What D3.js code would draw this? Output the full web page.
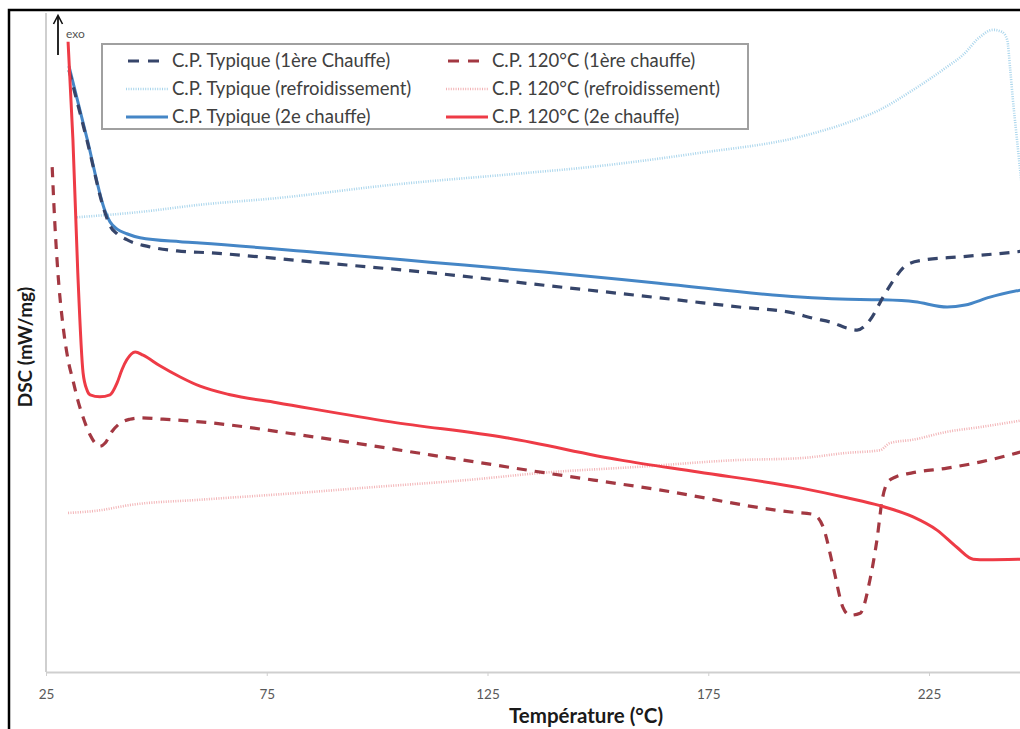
<!DOCTYPE html>
<html><head><meta charset="utf-8">
<script src="https://cdn.jsdelivr.net/npm/d3@7"></script>
<style>html,body{margin:0;padding:0;background:#fff;} svg{display:block;}</style>
</head><body>
<svg id="chart" width="1020" height="729"></svg>
<script>
// ---- Data: [Température (°C), DSC (arbitrary units, exo up)] ----
const typique1ereChauffe = [[30.2,91.2],[34.3,80.5],[38.4,69.5],[39.5,67.6],[41.1,66.4],[43.3,65.5],[48.6,64.4],[54.7,63.8],[62.4,63.5],[85.9,62.1],[112.0,60.5],[137.8,58.6],[163.8,56.7],[182.0,55.3],[194.2,54.4],[198.7,53.6],[203.3,52.9],[206.4,52.1],[208.7,51.8],[211.6,53.3],[214.6,56.8],[217.3,59.7],[220.0,61.7],[223.6,62.4],[232.0,62.9],[244.0,63.6],[246.7,63.8]];
const typiqueRefroid = [[32.0,68.9],[46.3,69.7],[59.9,70.8],[77.3,71.8],[103.1,73.8],[133.5,75.6],[146.6,76.4],[172.5,78.6],[195.8,81.1],[206.4,83.2],[213.9,85.2],[221.4,88.2],[229.1,91.7],[232.7,93.5],[236.5,96.2],[239.5,97.3],[241.5,97.0],[242.7,95.8],[243.4,91.2],[244.0,86.7],[244.7,82.1],[245.4,77.6],[246.1,73.0]];
const typique2eChauffe = [[30.2,91.8],[34.3,80.8],[38.4,69.8],[39.5,68.2],[41.1,67.1],[43.3,66.4],[46.3,65.8],[55.4,65.2],[59.9,65.0],[85.9,63.6],[112.0,62.1],[137.8,60.6],[163.8,58.9],[195.8,56.8],[204.8,56.5],[213.9,56.4],[221.8,56.1],[229.1,55.3],[233.2,55.6],[238.8,56.8],[246.7,58.0]];
const cp120_1ereChauffe = [[26.4,76.5],[27.0,68.0],[27.7,60.5],[28.9,52.2],[30.0,47.3],[31.1,44.2],[32.2,41.2],[33.4,38.6],[35.0,35.9],[36.1,34.7],[37.2,34.2],[38.4,34.7],[39.9,36.4],[41.8,37.7],[44.0,38.3],[46.3,38.5],[51.5,38.3],[59.9,37.9],[85.9,35.6],[112.0,32.9],[137.8,30.2],[163.8,27.6],[194.2,24.2],[198.7,23.9],[201.0,22.0],[203.3,15.9],[205.5,9.8],[207.1,8.6],[209.4,8.9],[211.6,13.9],[213.2,20.0],[214.4,26.1],[215.7,28.8],[217.3,29.5],[221.4,30.2],[229.1,30.9],[236.5,31.8],[246.7,33.5]];
const cp120_Refroid = [[30.0,24.1],[37.2,24.5],[44.0,25.3],[59.9,26.1],[81.6,27.1],[98.8,28.0],[120.6,29.1],[137.8,30.2],[159.5,31.1],[181.3,32.1],[195.8,32.4],[206.4,33.2],[213.9,33.6],[216.2,34.7],[221.4,35.2],[229.1,36.4],[236.5,37.1],[246.7,38.2]];
const cp120_2eChauffe = [[30.0,95.5],[31.1,80.6],[32.2,60.5],[33.4,45.3],[34.3,42.7],[35.0,42.0],[37.2,41.7],[39.5,42.0],[41.1,43.8],[42.2,45.8],[43.3,47.3],[45.2,48.5],[47.0,48.0],[50.8,46.4],[55.4,44.7],[59.9,43.3],[66.7,42.0],[77.3,40.8],[103.1,37.9],[129.2,35.5],[155.2,32.1],[172.7,30.3],[195.8,27.9],[206.4,26.4],[213.9,25.2],[221.4,23.5],[226.8,21.5],[231.3,18.9],[235.0,17.1],[238.1,17.0],[246.7,17.1]];

const xTicks = [25, 75, 125, 175, 225];
const legendLabels = ["C.P. Typique (1ère Chauffe)", "C.P. Typique (refroidissement)", "C.P. Typique (2e chauffe)",
                      "C.P. 120°C (1ère chauffe)", "C.P. 120°C (refroidissement)", "C.P. 120°C (2e chauffe)"];
const xTitle = "Température (°C)";
const yTitle = "DSC (mW/mg)";

// ---- Styles ----
const styles = [
  {data: typique1ereChauffe, color: "#36456a", width: 3.2, dash: "10,8"},
  {data: typiqueRefroid,     color: "#a9d5ec", width: 2.6, dash: "1,1.4"},
  {data: typique2eChauffe,   color: "#4586c6", width: 3, dash: null},
  {data: cp120_1ereChauffe,  color: "#a33842", width: 3.2, dash: "10,8"},
  {data: cp120_Refroid,      color: "#f2b3b6", width: 2.6, dash: "1,1.4"},
  {data: cp120_2eChauffe,    color: "#ee3b46", width: 3, dash: null}
];
const FONT = "Lato, 'Open Sans', sans-serif";

const svg = d3.select("#chart");
const x = d3.scaleLinear().domain([25, 250]).range([46, 1039.4]);
const y = d3.scaleLinear().domain([0, 100]).range([672, 12]);

// frame
svg.append("rect").attr("x", 9).attr("y", 10).attr("width", 1100).attr("height", 1000)
  .attr("fill", "none").attr("stroke", "#000").attr("stroke-width", 2.5);

svg.append("defs").append("clipPath").attr("id", "plotclip")
  .append("rect").attr("x", 46).attr("y", 11).attr("width", 974).attr("height", 662);

// y axis line
svg.append("line").attr("x1", 46).attr("x2", 46).attr("y1", 13).attr("y2", 672)
  .attr("stroke", "#cfcfcf").attr("stroke-width", 2);

// x axis
const xAxis = svg.append("g").attr("transform", "translate(0,672)")
  .call(d3.axisBottom(x).tickValues(xTicks).tickSize(4).tickSizeOuter(0).tickPadding(13).tickFormat(d3.format("d")));
xAxis.select(".domain").attr("stroke", "#cfcfcf").attr("stroke-width", 2);
xAxis.selectAll(".tick line").attr("stroke", "#cfcfcf");
xAxis.selectAll(".tick text").attr("fill", "#595959").style("font-family", FONT).style("font-size", "13.5px");

// axis titles
svg.append("text").attr("x", 586).attr("y", 723).attr("text-anchor", "middle")
  .style("font-family", FONT).style("font-weight", "bold").style("font-size", "20.5px")
  .attr("fill", "#1a1a1a").text(xTitle);
svg.append("text").attr("transform", "translate(32,347) rotate(-90)").attr("text-anchor", "middle")
  .style("font-family", FONT).style("font-weight", "bold").style("font-size", "19px")
  .attr("fill", "#1a1a1a").text(yTitle);

// exo arrow
svg.append("line").attr("x1", 58).attr("x2", 58).attr("y1", 55).attr("y2", 16)
  .attr("stroke", "#111").attr("stroke-width", 1.8);
svg.append("path").attr("d", "M53.5,24 L58,15.5 L62.5,24").attr("fill", "none")
  .attr("stroke", "#111").attr("stroke-width", 1.6);
svg.append("text").attr("x", 66).attr("y", 38).style("font-family", FONT).style("font-size", "12px")
  .attr("fill", "#555").text("exo");

// curves
const line = d3.line().x(d => x(d[0])).y(d => y(d[1])).curve(d3.curveMonotoneX);
const g = svg.append("g").attr("clip-path", "url(#plotclip)");
const order = [1, 4, 2, 0, 3, 5];
order.forEach(i => {
  const s = styles[i];
  g.append("path").datum(s.data).attr("d", line).attr("fill", "none")
    .attr("stroke", s.color).attr("stroke-width", s.width)
    .attr("stroke-dasharray", s.dash).attr("stroke-linejoin", "round");
});

// legend
const lg = svg.append("g");
lg.append("rect").attr("x", 102).attr("y", 44).attr("width", 646).attr("height", 85)
  .attr("fill", "#fff").attr("stroke", "#a0a0a0").attr("stroke-width", 2);
const rowsY = [61, 89, 117];
const colX = [{line: 126, text: 172}, {line: 446, text: 492}];
styles.forEach((s, i) => {
  const c = colX[Math.floor(i / 3)], ry = rowsY[i % 3];
  const dashed = s.dash === "10,8";
  lg.append("line").attr("x1", dashed ? c.line + 2 : c.line).attr("x2", dashed ? c.line + 33 : c.line + 42)
    .attr("y1", ry).attr("y2", ry)
    .attr("stroke", s.color).attr("stroke-width", s.width).attr("stroke-dasharray", dashed ? "11,9" : s.dash);
  lg.append("text").attr("x", c.text).attr("y", ry + 6)
    .style("font-family", FONT).style("font-size", "18.5px")
    .attr("fill", "#404040").text(legendLabels[i]);
});
</script>
</body></html>
